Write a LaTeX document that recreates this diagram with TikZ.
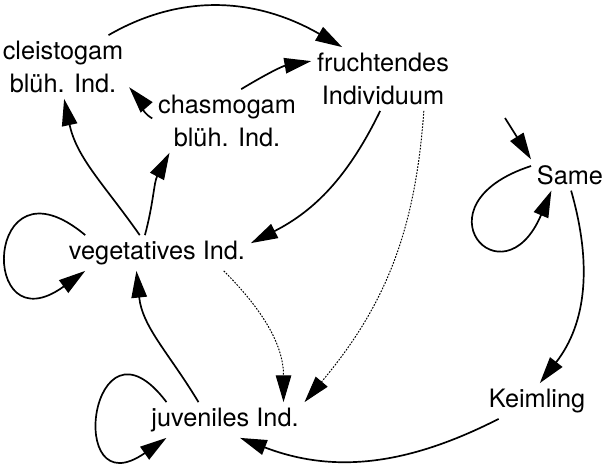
\documentclass[tikz,border=0pt]{standalone}
\usepackage{fontspec}
\setmainfont{TeX Gyre Heros}
\usetikzlibrary{arrows.meta}

\begin{document}
\begin{tikzpicture}[x=0.025cm, y=0.025cm,
        stage/.style={align=center, inner sep=4pt, font=\fontsize{18}{23.5}\selectfont},
        edge/.style={line width=1.2pt, -{Triangle[length=19pt, width=11pt]}},
        dots/.style={edge, densely dotted, line width=0.7pt}]
    \useasboundingbox (0, 0) rectangle (603, 475);

    \node[stage] (cleisto) at (63, 408) {cleistogam\\blüh. Ind.};
    \node[stage] (chasmo) at (227, 354) {chasmogam\\blüh. Ind.};
    \node[stage] (frucht) at (383, 396) {fruchtendes\\Individuum};
    \node[stage] (same) at (570, 300) {Same};
    \node[stage] (veg) at (157, 222) {vegetatives Ind.};
    \node[stage] (juv) at (225, 55) {juveniles Ind.};
    \node[stage] (keim) at (537, 74) {Keimling};
    \coordinate (seedin) at (505, 357);

    \draw[edge] (cleisto.35) to[out=30, in=150] (frucht.142);
    \draw[edge] (chasmo.66) to[out=31, in=190] (frucht.166);
    \draw[edge] (chasmo.178) to[out=150, in=311] (cleisto.-17);
    \draw[edge] (veg.134) to[out=125, in=282] (cleisto.-88);
    \draw[edge] (veg.124) to[out=75, in=242] (chasmo.209);
    \draw[edge] (frucht.-95) to[out=244, in=27] (veg.6);
    \draw[edge] (juv.146) to[out=121, in=276] (veg.221);

    \draw[dots] (frucht.-38) to[out=266, in=50] (juv.north east);
    \draw[dots] (veg.-15) to[out=-45, in=90] (juv.17);

    \draw[edge] (veg.166) to[out=140, in=216, looseness=9.5] (veg.194);
    \draw[edge] (juv.163) to[out=127, in=215, looseness=9] (juv.197);
    \draw[edge] (same.167) to[out=198, in=247, looseness=10] (same.220);

    \draw[edge] (seedin) -- (same.north west);
    \draw[edge] (same.-86) to[out=-74, in=52] (keim.81);
    \draw[edge] (keim.205) to[out=207, in=339] (juv.-50);
\end{tikzpicture}
\end{document}
